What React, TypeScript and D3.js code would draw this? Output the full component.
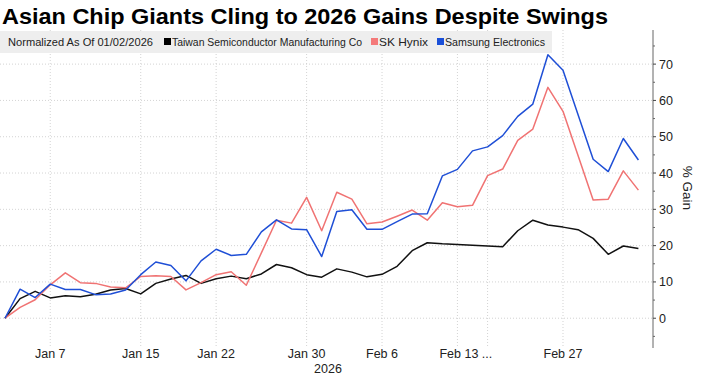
import React from "react";
import * as d3 from "d3";

const dates = [
  "2026-01-02", "2026-01-05", "2026-01-06", "2026-01-07", "2026-01-08", "2026-01-09",
  "2026-01-12", "2026-01-13", "2026-01-14", "2026-01-15", "2026-01-16",
  "2026-01-19", "2026-01-20", "2026-01-21", "2026-01-22", "2026-01-23",
  "2026-01-26", "2026-01-27", "2026-01-28", "2026-01-29", "2026-01-30",
  "2026-02-02", "2026-02-03", "2026-02-04", "2026-02-05", "2026-02-06",
  "2026-02-09", "2026-02-10", "2026-02-11", "2026-02-12", "2026-02-13",
  "2026-02-19", "2026-02-20",
  "2026-02-23", "2026-02-24", "2026-02-25", "2026-02-26", "2026-02-27",
  "2026-03-02", "2026-03-03", "2026-03-04", "2026-03-05", "2026-03-06",
];

const tsmc: (number | null)[] = [
  0, 5.4, 7.4, 5.6, 6.2, 5.9,
  6.6, 7.8, 8.2, 6.7, 9.6,
  10.8, 11.8, 9.6, 10.9, 11.6,
  10.9, 12.2, 14.8, 13.9, 12.0,
  11.3, 13.6, 12.7, 11.4, 12.1,
  14.3, 18.6, 20.8, 20.5, 20.3,
  null, null,
  19.7, 24.1, 27.0, 25.7, 25.1,
  24.4, 22.0, 17.6, 19.9, 19.2,
];

const skHynix: (number | null)[] = [
  0, 3.0, 5.1, 9.2, 12.5, 9.8,
  9.6, 8.6, 8.4, 11.5, 11.7,
  11.5, 7.8, 9.8, 12.0, 12.8,
  9.1, 18.0, 27.0, 26.2, 33.3,
  24.1, 34.7, 32.8, 26.0, 26.5,
  28.1, 29.8, 27.0, 31.8, 30.7,
  31.1, 39.3,
  41.1, 49.0, 52.1, 63.6, 57.0,
  null, 32.6, 32.8, 40.6, 35.3,
];

const samsung: (number | null)[] = [
  0, 8.0, 5.7, 9.4, 7.9, 7.9,
  6.5, 6.7, 7.8, 12.0, 15.5,
  14.5, 10.3, 15.8, 19.0, 17.3,
  17.6, 23.8, 27.1, 24.6, 24.4,
  17.0, 29.4, 29.9, 24.5, 24.5,
  26.6, 28.7, 28.8, 39.2, 41.0,
  46.1, 47.2,
  50.3, 55.6, 59.0, 72.6, 68.3,
  null, 43.8, 40.4, 49.5, 43.6,
];

const seriesNames = ["Taiwan Semiconductor Manufacturing Co", "SK Hynix", "Samsung Electronics"];
const seriesColors = ["#111111", "#f07373", "#1f4fd6"];
const legendSwatch = ["#000000", "#f47a7a", "#1a4fd8"];

const tickDates = ["2026-01-07", "2026-01-15", "2026-01-22", "2026-01-30", "2026-02-06", "2026-02-13", "2026-02-27"];
const tickLabels = ["Jan 7", "Jan 15", "Jan 22", "Jan 30", "Feb 6", "Feb 13 ...", "Feb 27"];
const gridDates = ["2026-01-07", "2026-01-15", "2026-01-22", "2026-01-30", "2026-02-06", "2026-02-13", "2026-02-20", "2026-02-27"];
const yTicks = [0, 10, 20, 30, 40, 50, 60, 70];
const yMinorTicks = [-5, 5, 15, 25, 35, 45, 55, 65, 75];

const title = "Asian Chip Giants Cling to 2026 Gains Despite Swings";
const legendTitle = "Normalized As Of 01/02/2026";
const yearLabel = "2026";
const yAxisTitle = "% Gain";

export default function App() {
  const W = 701, H = 376;
  const plotTop = 30, plotBottom = 348, axisX = 653;
  const x = d3.scalePoint<string>().domain(dates).range([5, 638.4]).padding(0);
  const y = d3.scaleLinear().domain([-8.2, 79.4]).range([plotBottom, plotTop]);

  const all = [tsmc, skHynix, samsung];
  const line = d3
    .line<{ d: string; v: number }>()
    .x((p) => x(p.d) as number)
    .y((p) => y(p.v));

  const paths = all.map((s) =>
    line(
      dates
        .map((d, i) => ({ d, v: s[i] as number }))
        .filter((p) => p.v !== null && p.v !== undefined)
    )
  );

  const font = "'Liberation Sans', Arial, sans-serif";
  const legendFont = "'Liberation Sans', Arial, sans-serif";

  const legendItems = [
    { sx: 164, tx: 172, tw: 190 },
    { sx: 371, tx: 379, tw: 49 },
    { sx: 437, tx: 445, tw: 100 },
  ];

  return (
    <svg
      width={W}
      height={H}
      style={{ position: "absolute", left: 0, top: 0, background: "#fff" }}
      fontFamily={font}
    >
      <text x={2} y={24} fontSize={22} fontWeight="bold" fill="#000" textLength={606} lengthAdjust="spacingAndGlyphs">
        {title}
      </text>

      {yTicks.map((t) => (
        <line key={"hg" + t} x1={0} x2={axisX} y1={y(t)} y2={y(t)} stroke="#c8c8c8" strokeWidth={0.8} strokeDasharray="1,2" />
      ))}
      {gridDates.map((d) => (
        <line key={"vg" + d} x1={x(d)} x2={x(d)} y1={plotTop} y2={plotBottom} stroke="#c8c8c8" strokeWidth={0.8} strokeDasharray="1,2" />
      ))}

      <rect x={0} y={31} width={552} height={22} fill="#eeeeee" />
      <text x={8} y={46} fontSize={10.5} fill="#222" fontFamily={legendFont} textLength={145} lengthAdjust="spacingAndGlyphs">
        {legendTitle}
      </text>
      {seriesNames.map((n, i) => (
        <g key={n}>
          <rect x={legendItems[i].sx} y={38} width={7} height={7} fill={legendSwatch[i]} />
          <text x={legendItems[i].tx} y={46} fontSize={10.5} fill="#222" fontFamily={legendFont} textLength={legendItems[i].tw} lengthAdjust="spacingAndGlyphs">
            {n}
          </text>
        </g>
      ))}

      {paths.map((p, i) => (
        <path key={"l" + i} d={p || ""} fill="none" stroke={seriesColors[i]} strokeWidth={1.5} strokeLinejoin="round" />
      ))}

      <line x1={axisX} x2={axisX} y1={plotTop} y2={plotBottom} stroke="#666" strokeWidth={1} />
      {yTicks.map((t) => (
        <g key={"yt" + t}>
          <line x1={axisX} x2={axisX + 3} y1={y(t)} y2={y(t)} stroke="#444" strokeWidth={1} />
          <text x={axisX + 6} y={y(t) + 4.5} fontSize={12.5} fill="#222">
            {t}
          </text>
        </g>
      ))}
      {yMinorTicks.map((t) => (
        <line key={"ym" + t} x1={axisX} x2={axisX + 2} y1={y(t)} y2={y(t)} stroke="#666" strokeWidth={1} />
      ))}
      <text transform="translate(683,188) rotate(90)" textAnchor="middle" fontSize={13.5} fill="#222">
        {yAxisTitle}
      </text>

      {tickDates.map((d, i) => {
        const lbl = tickLabels[i];
        if (lbl.endsWith("...")) {
          return (
            <text key={"xt" + d} x={(x(d) as number) - 18} y={358} fontSize={12.5} fill="#222">
              {lbl}
            </text>
          );
        }
        return (
          <text key={"xt" + d} x={x(d)} y={358} fontSize={12.5} fill="#222" textAnchor="middle">
            {lbl}
          </text>
        );
      })}
      <text x={328} y={373} fontSize={12.5} fill="#222" textAnchor="middle">
        {yearLabel}
      </text>
    </svg>
  );
}
